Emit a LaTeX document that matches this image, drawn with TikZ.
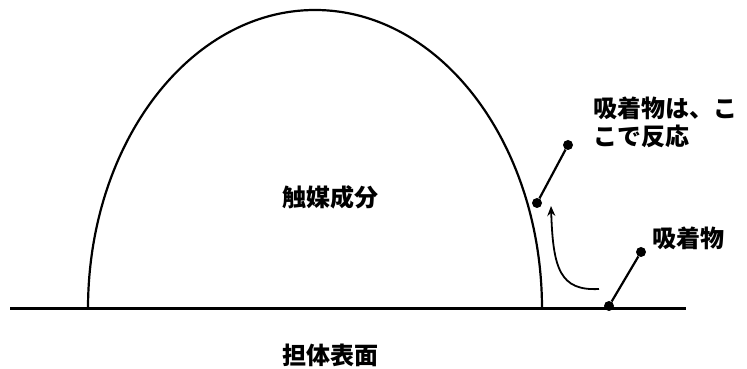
\documentclass[tikz,border=0pt]{standalone}
\usepackage{fontspec}
\newfontfamily\cjk{Noto Sans CJK JP}
\usetikzlibrary{arrows.meta}
\tikzset{
  lbl/.style={font=\cjk\bfseries\fontsize{24}{28}\selectfont, inner sep=0pt},
  ball/.style={circle, fill=black, minimum size=10pt, inner sep=0pt},
  bond/.style={line width=2.2pt},
  thin/.style={line width=2.2pt}
}
\begin{document}
\begin{tikzpicture}[x=1pt,y=1pt]
\useasboundingbox (0,0) rectangle (747,369);
% support surface
\coordinate (bl) at (10,60);
\coordinate (br) at (686,60);
\draw[line width=3pt] (bl) -- (br);
% catalyst dome
\coordinate (dl) at (88,60);
\draw[thin] (dl) arc[start angle=180, end angle=0, x radius=227, y radius=299];
% molecules
\node[ball] (m1a) at (568,224) {};
\node[ball] (m1b) at (537,166) {};
\draw[bond] (m1a) -- (m1b);
\node[ball] (m2a) at (641,117) {};
\node[ball] (m2b) at (609,63) {};
\draw[bond] (m2a) -- (m2b);
% migration arrow
\coordinate (as) at (599,80);
\coordinate (ae) at (551,163);
\draw[line width=1.8pt, -{Stealth[length=10pt,width=8pt]}] (as) .. controls (560,78) and (553,100) .. (ae);
% labels
\node[lbl] (t1) at (330,172) {触媒成分};
\node[lbl] (t2) at (330,14) {担体表面};
\node[lbl] (t3) at (688,131) {吸着物};
\node[lbl, anchor=west] (t4) at (593,261) {吸着物は、こ};
\node[lbl, anchor=west] (t5) at (593,233) {こで反応};
\end{tikzpicture}
\end{document}
